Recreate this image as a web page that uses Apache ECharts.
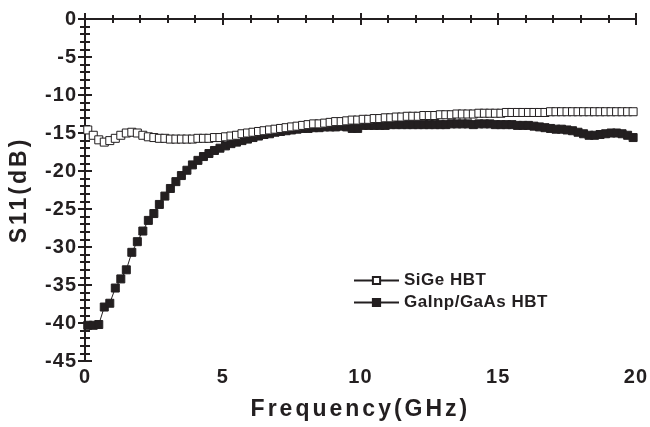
<!DOCTYPE html>
<html><head><meta charset="utf-8">
<script src="https://cdn.jsdelivr.net/npm/echarts@6/dist/echarts.min.js"></script>
<style>html,body{margin:0;padding:0;background:#fff}#c{width:650px;height:427px}</style>
</head><body><div id="c"></div>
<script>
const freq = [0.1,0.3,0.5,0.7,0.9,1.1,1.3,1.5,1.7,1.9,2.1,2.3,2.5,2.7,2.9,3.1,3.3,3.5,3.7,3.9,
4.1,4.3,4.5,4.7,4.9,5.1,5.3,5.5,5.7,5.9,6.1,6.3,6.5,6.7,6.9,7.1,7.3,7.5,7.7,7.9,
8.1,8.3,8.5,8.7,8.9,9.1,9.3,9.5,9.7,9.9,10.1,10.3,10.5,10.7,10.9,11.1,11.3,11.5,11.7,11.9,
12.1,12.3,12.5,12.7,12.9,13.1,13.3,13.5,13.7,13.9,14.1,14.3,14.5,14.7,14.9,15.1,15.3,15.5,15.7,15.9,
16.1,16.3,16.5,16.7,16.9,17.1,17.3,17.5,17.7,17.9,18.1,18.3,18.5,18.7,18.9,19.1,19.3,19.5,19.7,19.9];
const sige = [-14.6,-15.3,-15.9,-16.2,-16.0,-15.7,-15.3,-15.0,-14.9,-15.0,-15.3,-15.5,-15.6,-15.7,-15.7,-15.8,-15.8,-15.8,-15.8,-15.8,
-15.7,-15.7,-15.7,-15.6,-15.6,-15.5,-15.4,-15.3,-15.1,-15.0,-14.9,-14.8,-14.7,-14.6,-14.5,-14.4,-14.3,-14.2,-14.1,-14.0,
-13.9,-13.8,-13.8,-13.7,-13.6,-13.5,-13.5,-13.4,-13.3,-13.3,-13.2,-13.2,-13.1,-13.1,-13.0,-13.0,-12.9,-12.9,-12.8,-12.8,
-12.8,-12.7,-12.7,-12.7,-12.6,-12.6,-12.6,-12.5,-12.5,-12.5,-12.5,-12.4,-12.4,-12.4,-12.4,-12.4,-12.3,-12.3,-12.3,-12.3,
-12.3,-12.3,-12.3,-12.3,-12.2,-12.2,-12.2,-12.2,-12.2,-12.2,-12.2,-12.2,-12.2,-12.2,-12.2,-12.2,-12.2,-12.2,-12.2,-12.2];
const gainp = [-40.3,-40.3,-40.2,-37.9,-37.4,-35.4,-34.2,-33.0,-30.7,-29.3,-27.9,-26.5,-25.6,-24.4,-23.3,-22.3,-21.4,-20.6,-19.9,-19.2,
-18.6,-18.1,-17.7,-17.3,-17.0,-16.7,-16.4,-16.2,-16.0,-15.8,-15.6,-15.4,-15.2,-15.1,-14.9,-14.8,-14.7,-14.6,-14.5,-14.4,
-14.4,-14.3,-14.3,-14.2,-14.2,-14.2,-14.1,-14.2,-14.4,-14.4,-14.0,-14.0,-14.0,-14.0,-14.0,-13.9,-13.9,-13.9,-13.9,-13.9,
-13.9,-13.9,-13.9,-13.9,-13.9,-13.9,-13.8,-13.8,-13.8,-13.8,-13.9,-13.8,-13.8,-13.8,-13.9,-13.9,-13.9,-13.9,-14.0,-14.0,
-14.0,-14.1,-14.2,-14.3,-14.4,-14.5,-14.5,-14.6,-14.7,-14.9,-15.1,-15.3,-15.3,-15.2,-15.1,-15.0,-15.0,-15.1,-15.3,-15.6];
const seriesNames = ['SiGe HBT', 'GaInp/GaAs HBT'];
const xTicks = [0, 5, 10, 15, 20];
const yTicks = [-45, -40, -35, -30, -25, -20, -15, -10, -5, 0];

// wider letter spacing, as in the original figure's lettering
(function () {
  const proto = CanvasRenderingContext2D.prototype;
  const orig = proto.fillText;
  proto.fillText = function (t, x, y, w) {
    const m = /(\d+(?:\.\d+)?)px/.exec(this.font);
    const s = m ? +m[1] : 12;
    if ('letterSpacing' in this) this.letterSpacing = s >= 23 ? '3px' : (s >= 20 ? '1px' : '0.5px');
    return w === undefined ? orig.call(this, t, x, y) : orig.call(this, t, x, y, w);
  };
})();

const pairs = (ys) => freq.map((f, i) => [f, ys[i]]);
const font = '"Liberation Sans", Arial, sans-serif';
const ink = '#231f20';
const axisLine = {show: true, lineStyle: {color: ink, width: 2}};
const chart = echarts.init(document.getElementById('c'));
chart.setOption({
  animation: false,
  backgroundColor: '#fff',
  grid: {left: 85, right: 13, top: 19, bottom: 66, containLabel: false},
  legend: {
    orient: 'vertical', left: 348, top: 267, itemWidth: 45, itemHeight: 9, itemGap: 5,
    data: [seriesNames[0], seriesNames[1]],
    textStyle: {fontFamily: font, fontWeight: 'bold', fontSize: 17, color: ink}
  },
  xAxis: [{
    type: 'value', min: xTicks[0], max: xTicks[xTicks.length - 1], interval: 5,
    name: 'Frequency(GHz)', nameLocation: 'middle', nameGap: 37,
    nameTextStyle: {fontFamily: font, fontWeight: 'bold', fontSize: 23, color: ink},
    axisLine: axisLine,
    axisTick: {inside: true, length: 6, lineStyle: {width: 2, color: ink}},
    minorTick: {show: true, splitNumber: 5, length: 4, lineStyle: {width: 2, color: ink}},
    splitLine: {show: false},
    axisLabel: {fontFamily: font, fontWeight: 'bold', fontSize: 20, color: ink, margin: 6}
  }, {
    type: 'value', position: 'top', min: 0, max: 20, interval: 5,
    axisLine: axisLine,
    axisTick: {inside: true, length: 6, lineStyle: {width: 2, color: ink}},
    minorTick: {show: true, splitNumber: 5, length: 4, lineStyle: {width: 2, color: ink}},
    splitLine: {show: false}, axisLabel: {show: false}
  }],
  yAxis: [{
    type: 'value', min: yTicks[0], max: yTicks[yTicks.length - 1], interval: 5,
    name: 'S11(dB)', nameLocation: 'middle', nameGap: 54,
    nameTextStyle: {fontFamily: font, fontWeight: 'bold', fontSize: 23, color: ink},
    axisLine: axisLine,
    axisTick: {inside: true, length: 7, lineStyle: {width: 2, color: ink}},
    minorTick: {show: true, splitNumber: 5, length: 5, lineStyle: {width: 2, color: ink}},
    splitLine: {show: false},
    axisLabel: {fontFamily: font, fontWeight: 'bold', fontSize: 20, color: ink, margin: 8}
  }, {
    type: 'value', position: 'right', min: -45, max: 0, interval: 5,
    axisLine: axisLine,
    axisTick: {inside: true, length: 7, lineStyle: {width: 2, color: ink}},
    minorTick: {show: true, splitNumber: 5, length: 5, lineStyle: {width: 2, color: ink}},
    splitLine: {show: false}, axisLabel: {show: false}
  }],
  series: [{
    name: seriesNames[1], type: 'line', data: pairs(gainp),
    symbol: 'rect', symbolSize: 8, z: 2,
    lineStyle: {color: ink, width: 1},
    itemStyle: {color: ink, borderColor: ink, borderWidth: 1}
  }, {
    name: seriesNames[0], type: 'line', data: pairs(sige),
    symbol: 'rect', symbolSize: 8, z: 3,
    lineStyle: {color: ink, width: 1},
    itemStyle: {color: '#fff', borderColor: ink, borderWidth: 1}
  }]
});
</script></body></html>
